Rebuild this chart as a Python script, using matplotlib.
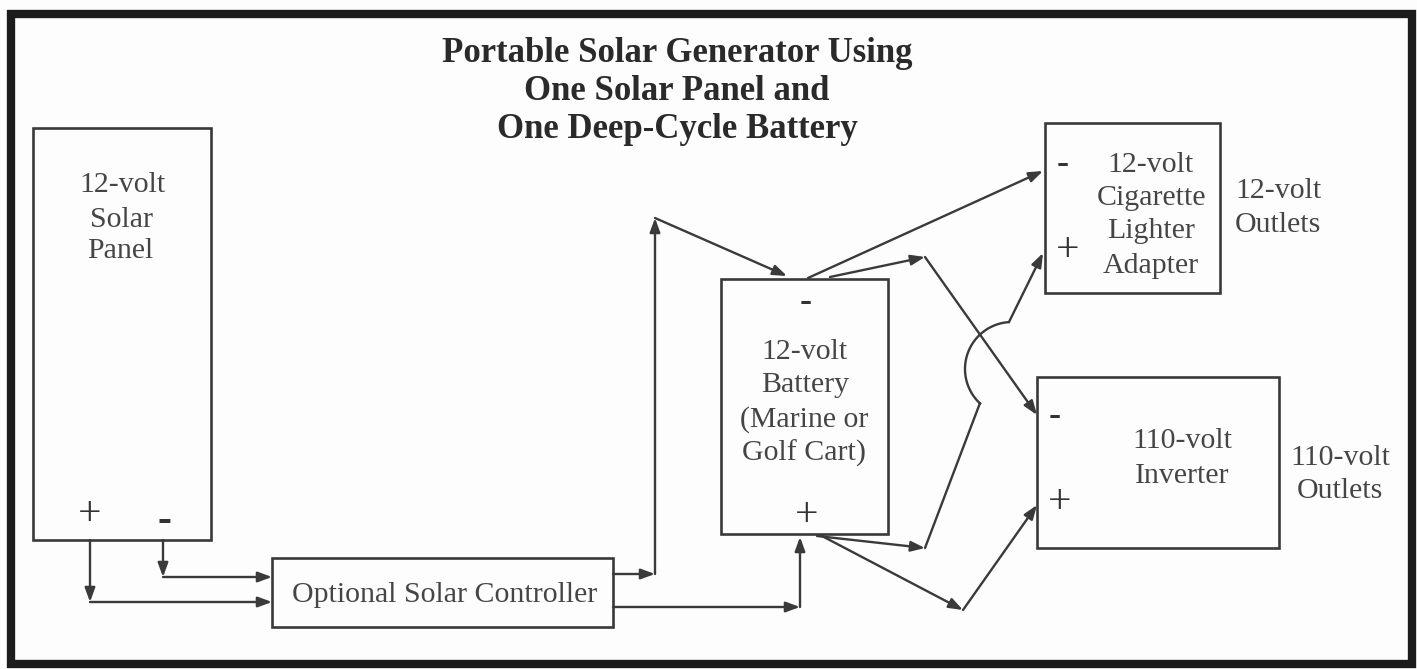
import numpy as np
import matplotlib.pyplot as plt
from matplotlib.patches import Rectangle

plt.rcParams['font.family'] = ['Liberation Serif', 'DejaVu Serif']

W, H = 1417, 669
INK = '#3a3a3a'
TXT = '#454545'

# boxes in picture pixels (x0, y0, x1, y1), y grows downward
box_x0 = [33, 272, 721, 1045, 1037]
box_y0 = [128, 558, 279, 123, 377]
box_x1 = [211, 613, 888, 1220, 1279]
box_y1 = [540, 627, 534, 293, 548]

title_lines = ['Portable Solar Generator Using', 'One Solar Panel and', 'One Deep-Cycle Battery']
title_base = [62, 100, 138]

label_text = ['12-volt', 'Solar', 'Panel',
              'Optional Solar Controller',
              '12-volt', 'Battery', '(Marine or', 'Golf Cart)',
              '12-volt', 'Cigarette', 'Lighter', 'Adapter',
              '12-volt', 'Outlets',
              '110-volt', 'Inverter',
              '110-volt', 'Outlets']
label_x = [122, 122, 120, 445, 805, 805, 804, 804,
           1150, 1151, 1151, 1151, 1278, 1278, 1182, 1182, 1340, 1340]
label_y = [182, 217, 248, 592, 349, 382, 417, 450,
           162, 195, 228, 263, 188, 222, 438, 473, 455, 488]

sign_text = ['+', '-', '-', '+', '-', '+', '-', '+']
sign_x = [90, 164, 806, 807, 1063, 1068, 1055, 1060]
sign_y = [515, 521, 303, 516, 165, 251, 417, 503]
sign_size = [30, 30, 26, 30, 26, 30, 26, 30]

# wire segments: start, end, arrowhead at end?
seg_x0 = [90, 90, 163, 163, 613, 655, 655, 613, 800, 808, 830, 925, 817, 925, 1009, 822, 963]
seg_y0 = [540, 602, 540, 577, 574, 574, 218, 607, 607, 278, 277, 257, 536, 548, 322, 536, 610]
seg_x1 = [90, 272, 163, 272, 655, 655, 787, 800, 800, 1043, 925, 1037, 925, 980, 1043, 963, 1037]
seg_y1 = [602, 602, 577, 577, 574, 218, 276, 607, 537, 171, 257, 415, 548, 403, 253, 610, 505]
seg_arrow = [1, 1, 1, 1, 1, 1, 1, 1, 1, 1, 1, 1, 1, 0, 1, 1, 1]

# hop arc where the lighter + wire jumps the inverter - wire
arc_cx, arc_cy, arc_r = 1012, 369, 47
arc_a0, arc_a1 = 132.7, 266.0   # degrees, screen orientation

fig = plt.figure(figsize=(W / 100, H / 100), dpi=100)
fig.patch.set_facecolor('#fdfdfd')
ax = fig.add_axes([0, 0, 1, 1])
ax.set_xlim(0, W)
ax.set_ylim(H, 0)
ax.axis('off')

# outer frame
ax.add_patch(Rectangle((11, 13.5), 1401, 650.5, fill=False, ec='#1c1c1c', lw=6))

for x0, y0, x1, y1 in zip(box_x0, box_y0, box_x1, box_y1):
    ax.add_patch(Rectangle((x0, y0), x1 - x0, y1 - y0, fill=False, ec=INK, lw=1.9))

for x0, y0, x1, y1, a in zip(seg_x0, seg_y0, seg_x1, seg_y1, seg_arrow):
    if a:
        ax.annotate('', xy=(x1, y1), xytext=(x0, y0),
                    arrowprops=dict(arrowstyle='-|>,head_length=0.6,head_width=0.22',
                                    color=INK, lw=1.7, mutation_scale=14,
                                    shrinkA=0, shrinkB=0))
    else:
        ax.plot([x0, x1], [y0, y1], color=INK, lw=1.7, solid_capstyle='round')

t = np.radians(np.linspace(arc_a0, arc_a1, 60))
ax.plot(arc_cx + arc_r * np.cos(t), arc_cy + arc_r * np.sin(t), color=INK, lw=1.7)

for s, y in zip(title_lines, title_base):
    ax.text(677, y, s, ha='center', va='baseline', fontsize=25,
            fontweight='bold', color='#2a2a2a')

for s, x, y in zip(label_text, label_x, label_y):
    ax.text(x, y + 3, s, ha='center', va='center', fontsize=21.5, color=TXT)

for s, x, y, fs in zip(sign_text, sign_x, sign_y, sign_size):
    if s == '+':
        ax.text(x, y, s, ha='center', va='center', fontsize=fs, color='#333333')
    else:
        ax.text(x, y, '-', ha='center', va='center', fontsize=fs,
                fontweight='bold', color='#333333')

fig.savefig('out.png', dpi=100, facecolor=fig.get_facecolor())
